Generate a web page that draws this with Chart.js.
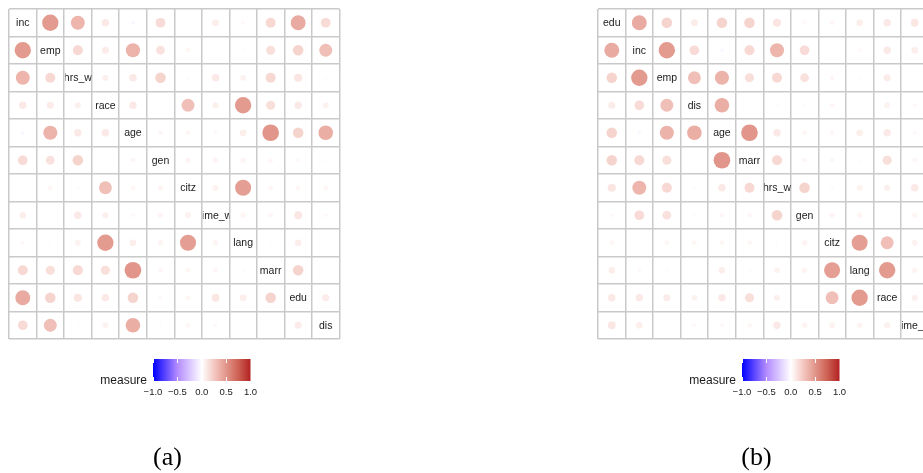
<!DOCTYPE html>
<html>
<head>
<meta charset="utf-8">
<title>Correlation circles</title>
<script src="https://cdn.jsdelivr.net/npm/chart.js@4.4.1/dist/chart.umd.min.js"></script>
<style>
    html, body { margin: 0; padding: 0; background: #fff; overflow: hidden; }
    .panel { position: absolute; top: 0; }
    #panelA { left: 0; }
    #panelB { left: 589px; }
</style>
</head>
<body>
<canvas id="panelA" class="panel" width="350" height="473"></canvas>
<canvas id="panelB" class="panel" width="350" height="473"></canvas>
<script>
// variable order of each panel
const varsA = ['inc', 'emp', 'hrs_w', 'race', 'age', 'gen', 'citz', 'time_w', 'lang', 'marr', 'edu', 'dis'];
const varsB = ['edu', 'inc', 'emp', 'dis', 'age', 'marr', 'hrs_w', 'gen', 'citz', 'lang', 'race', 'time_w'];

// pairwise measure, rows/cols in varsA order (null = diagonal or missing)
const rowInc   = [null, 0.48, 0.35, 0.10, -0.03, 0.17, null, 0.08, 0.03, 0.18, 0.40, 0.17];
const rowEmp   = [0.48, null, 0.18, 0.09, 0.36, 0.14, 0.04, null, 0.02, 0.15, 0.20, 0.30];
const rowHrsW  = [0.35, 0.18, null, 0.07, 0.10, 0.20, 0.02, 0.10, 0.06, 0.18, 0.12, 0.02];
const rowRace  = [0.10, 0.09, 0.07, null, 0.10, 0.01, 0.30, 0.07, 0.48, 0.15, 0.10, 0.06];
const rowAge   = [-0.03, 0.36, 0.10, 0.10, null, 0.04, 0.04, 0.03, 0.08, 0.50, 0.20, 0.38];
const rowGen   = [0.17, 0.14, 0.20, 0.01, 0.04, null, 0.05, 0.05, 0.05, 0.04, 0.03, 0.02];
const rowCitz  = [null, 0.04, 0.02, 0.30, 0.04, 0.05, null, 0.06, 0.46, 0.04, 0.04, 0.04];
const rowTimeW = [0.08, null, 0.10, 0.07, 0.03, 0.05, 0.06, null, 0.05, 0.04, 0.11, 0.03];
const rowLang  = [0.03, 0.02, 0.06, 0.48, 0.08, 0.05, 0.46, 0.05, null, 0.02, 0.08, null];
const rowMarr  = [0.18, 0.15, 0.18, 0.15, 0.50, 0.04, 0.04, 0.04, 0.02, null, 0.20, null];
const rowEdu   = [0.40, 0.20, 0.12, 0.10, 0.20, 0.03, 0.04, 0.11, 0.08, 0.20, null, 0.09];
const rowDis   = [0.17, 0.30, 0.02, 0.06, 0.38, 0.02, 0.04, 0.03, null, null, 0.09, null];
const measure = [rowInc, rowEmp, rowHrsW, rowRace, rowAge, rowGen, rowCitz, rowTimeW, rowLang, rowMarr, rowEdu, rowDis];

// colour bar
const legendTitle = 'measure';
const legendBreaks = [-1, -0.5, 0, 0.5, 1];
const legendLabels = ['\u22121.0', '\u22120.5', '0.0', '0.5', '1.0'];

const captions = ['(a)', '(b)'];

// blue - white - firebrick, stops roughly follow a Lab blend
const colourStops = [
    [-1, [0, 0, 255]],
    [-0.5, [179, 139, 255]],
    [0, [255, 255, 255]],
    [0.25, [244, 201, 194]],
    [0.5, [226, 150, 139]],
    [0.75, [205, 97, 83]],
    [1, [178, 34, 34]]
];

function colourFor(v) {
    for (let i = 1; i < colourStops.length; i++) {
        const [v0, c0] = colourStops[i - 1];
        const [v1, c1] = colourStops[i];
        if (v <= v1) {
            const t = (v - v0) / (v1 - v0);
            const c = c0.map((ch, k) => Math.round(ch + (c1[k] - ch) * t));
            return `rgb(${c[0]}, ${c[1]}, ${c[2]})`;
        }
    }
    return 'rgb(178, 34, 34)';
}

// circle area follows |measure|
function radiusFor(v) {
    return 11.8 * Math.sqrt(Math.abs(v));
}

function valueOf(rowName, colName) {
    return measure[varsA.indexOf(rowName)][varsA.indexOf(colName)];
}

function buildPoints(order) {
    const pts = [];
    order.forEach((rowName, r) => {
        order.forEach((colName, c) => {
            if (r === c) return;
            const v = valueOf(rowName, colName);
            if (v === null) return;
            pts.push({ x: c + 0.5, y: r + 0.5, v: v });
        });
    });
    return pts;
}

// variable names on the diagonal, clipped to their cell
const diagonalLabels = {
    id: 'diagonalLabels',
    afterDatasetsDraw(chart, args, opts) {
        const { ctx, scales: { x, y } } = chart;
        ctx.save();
        ctx.font = '10.5px "Liberation Sans", Arial, sans-serif';
        ctx.fillStyle = '#1a1a1a';
        ctx.textAlign = 'center';
        ctx.textBaseline = 'middle';
        opts.order.forEach((name, i) => {
            const left = x.getPixelForValue(i);
            const right = x.getPixelForValue(i + 1);
            const top = y.getPixelForValue(i);
            const bottom = y.getPixelForValue(i + 1);
            ctx.save();
            ctx.beginPath();
            ctx.rect(left + 1, top, right - left - 1, bottom - top);
            ctx.clip();
            ctx.fillText(name, (left + right) / 2, (top + bottom) / 2 + 0.5);
            ctx.restore();
        });
        ctx.restore();
    }
};

// colour bar legend and panel caption underneath the grid
const measureLegend = {
    id: 'measureLegend',
    afterDraw(chart, args, opts) {
        const ctx = chart.ctx;
        const barLeft = 153, barWidth = 97.5, barTop = 359, barHeight = 22;
        const toPx = v => barLeft + (v + 1) / 2 * barWidth;

        ctx.save();
        const grad = ctx.createLinearGradient(barLeft, 0, barLeft + barWidth, 0);
        colourStops.forEach(([v]) => grad.addColorStop((v + 1) / 2, colourFor(v)));
        ctx.fillStyle = grad;
        ctx.fillRect(barLeft, barTop, barWidth, barHeight);

        ctx.strokeStyle = '#ffffff';
        ctx.lineWidth = 1;
        legendBreaks.forEach(v => {
            const px = Math.round(toPx(v)) + 0.5;
            ctx.beginPath();
            ctx.moveTo(px, barTop);
            ctx.lineTo(px, barTop + 4);
            ctx.moveTo(px, barTop + barHeight - 4);
            ctx.lineTo(px, barTop + barHeight);
            ctx.stroke();
        });

        ctx.fillStyle = '#1a1a1a';
        ctx.font = '12px "Liberation Sans", Arial, sans-serif';
        ctx.textAlign = 'right';
        ctx.textBaseline = 'alphabetic';
        ctx.fillText(legendTitle, 147, 383.5);

        ctx.font = '9.5px "Liberation Sans", Arial, sans-serif';
        ctx.textAlign = 'center';
        legendBreaks.forEach((v, i) => ctx.fillText(legendLabels[i], toPx(v), 394.5));

        ctx.fillStyle = '#000';
        ctx.font = '26px "Liberation Serif", "Times New Roman", serif';
        ctx.fillText(opts.caption, 167.5, 465);
        ctx.restore();
    }
};

function axisOptions(reverse) {
    return {
        type: 'linear',
        min: 0,
        max: 12,
        reverse: reverse,
        ticks: { display: false, stepSize: 1 },
        grid: { color: '#c9c9c9', lineWidth: 1.5, drawTicks: false },
        border: { display: false }
    };
}

function drawPanel(canvasId, order, caption) {
    const ctx = document.getElementById(canvasId).getContext('2d');
    return new Chart(ctx, {
        type: 'scatter',
        data: {
            datasets: [{
                data: buildPoints(order),
                pointRadius: c => radiusFor(c.raw.v),
                pointHoverRadius: c => radiusFor(c.raw.v),
                pointBackgroundColor: c => colourFor(c.raw.v),
                pointBorderWidth: 0,
                clip: false
            }]
        },
        options: {
            responsive: false,
            animation: false,
            events: [],
            layout: { padding: { left: 9, top: 9, right: 10.5, bottom: 134 } },
            plugins: {
                legend: { display: false },
                tooltip: { enabled: false },
                diagonalLabels: { order: order },
                measureLegend: { caption: caption }
            },
            scales: {
                x: axisOptions(false),
                y: axisOptions(true)
            }
        },
        plugins: [diagonalLabels, measureLegend]
    });
}

drawPanel('panelA', varsA, captions[0]);
drawPanel('panelB', varsB, captions[1]);
</script>
</body>
</html>
